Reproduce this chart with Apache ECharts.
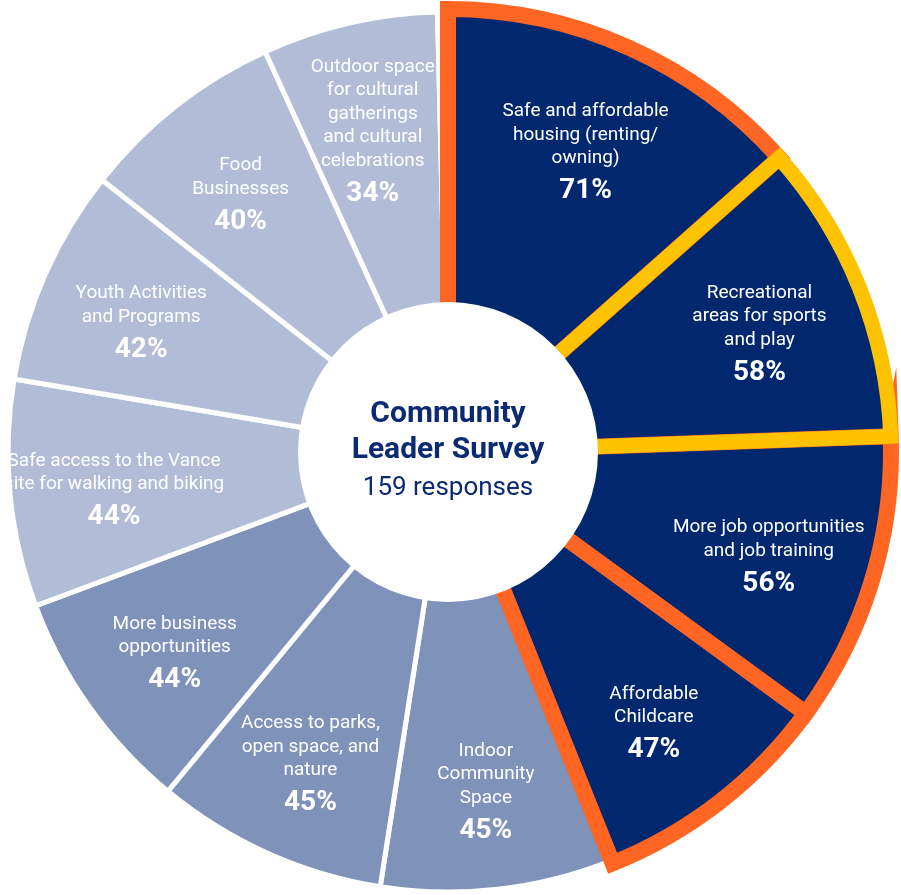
<!DOCTYPE html>
<html>
<head>
<meta charset="utf-8">
<script src="https://cdn.jsdelivr.net/npm/echarts@6/dist/echarts.min.js"></script>
<style>
html,body{margin:0;padding:0;background:#fff;}
#c{width:901px;height:895px;}
</style>
</head>
<body>
<div id="c"></div>
<script>
// ---- data ----
const categories = [
  'Safe and affordable\nhousing (renting/\nowning)',
  'Recreational\nareas for sports\nand play',
  'More job opportunities\nand job training',
  'Affordable\nChildcare',
  'Indoor\nCommunity\nSpace',
  'Access to parks,\nopen space, and\nnature',
  'More business\nopportunities',
  'Safe access to the Vance\nsite for walking and biking',
  'Youth Activities\nand Programs',
  'Food\nBusinesses',
  'Outdoor space\nfor cultural\ngatherings\nand cultural\ncelebrations'
];
const values = [71, 58, 56, 47, 45, 45, 44, 44, 42, 40, 34];
const otherValue = 2;
const centerTitle = 'Community\nLeader Survey';
const centerSub = '159 responses';

// ---- styles ----
const NAVY = '#01286f', MID = '#7f92ba', LIGHT = '#b1bcd6';
const ORANGE = '#ff6624', YELLOW = '#fdc300';
const fillColors = [NAVY, NAVY, NAVY, NAVY, MID, MID, MID, LIGHT, LIGHT, LIGHT, LIGHT];
const orangeIdx = [0, 2, 3];
const yellowIdx = [1];
const CENTER = [448, 452];
const R_OUT = 440;
const R_BORDER = 443;
const CLEAR = 'rgba(0,0,0,0)';

const base = categories.map((n, i) => ({name: n, value: values[i], itemStyle: {color: fillColors[i]}}));
base.push({name: '', value: otherValue, itemStyle: {color: LIGHT}});

function outlineData(idxs, col, w) {
  const d = categories.map((n, i) => ({
    name: n, value: values[i],
    itemStyle: idxs.indexOf(i) >= 0 ?
      {color: CLEAR, borderColor: col, borderWidth: w, borderJoin: 'miter'} :
      {color: CLEAR, borderWidth: 0}
  }));
  d.push({name: '', value: otherValue, itemStyle: {color: CLEAR, borderWidth: 0}});
  return d;
}

const labelData = categories.map((n, i) => ({name: n, value: values[i]}));
labelData.push({name: '', value: otherValue, label: {show: false}});

const common = {type: 'pie', silent: true, center: CENTER, startAngle: 90, clockwise: true,
  avoidLabelOverlap: false, labelLine: {show: false}, emphasis: {disabled: true}};

const chart = echarts.init(document.getElementById('c'));
chart.setOption({
  animation: false,
  series: [
    Object.assign({}, common, {
      radius: [110, R_OUT], z: 2,
      itemStyle: {borderColor: '#fff', borderWidth: 5, borderJoin: 'miter'},
      label: {show: false},
      data: base
    }),
    Object.assign({}, common, {
      radius: [110, R_BORDER], z: 3,
      label: {show: false},
      data: outlineData(orangeIdx, ORANGE, 16)
    }),
    Object.assign({}, common, {
      radius: [110, R_BORDER], z: 4,
      label: {show: false},
      data: outlineData(yellowIdx, YELLOW, 15)
    }),
    Object.assign({}, common, {
      radius: [225, R_OUT], z: 5,
      itemStyle: {color: CLEAR},
      label: {
        show: true, position: 'inside', color: '#fff', offset: [0, 10],
        fontFamily: 'Roboto',
        formatter: p => '{n|' + p.name.split('\n').join('}\n{n|') + '}\n{p|' + p.value + '%}',
        rich: {
          n: {fontFamily: 'Roboto', fontSize: 19, lineHeight: 23.5, color: '#fff', align: 'center'},
          p: {fontFamily: 'Roboto', fontSize: 28, fontWeight: 'bold', lineHeight: 42, color: '#fff', align: 'center'}
        }
      },
      data: labelData
    }),
    Object.assign({}, common, {
      radius: [0, 150], z: 6,
      itemStyle: {color: '#fff'},
      label: {
        show: true, position: 'center',
        formatter: '{t|' + centerTitle.split('\n').join('}\n{t|') + '}\n{s|' + centerSub + '}',
        rich: {
          t: {fontFamily: 'Roboto', fontSize: 30, fontWeight: 'bold', lineHeight: 36, color: '#0b2a72', align: 'center'},
          s: {fontFamily: 'Roboto', fontSize: 26, lineHeight: 40, color: '#0b2a72', align: 'center'}
        }
      },
      data: [{name: 'center', value: 1}]
    })
  ]
});
</script>
</body>
</html>
